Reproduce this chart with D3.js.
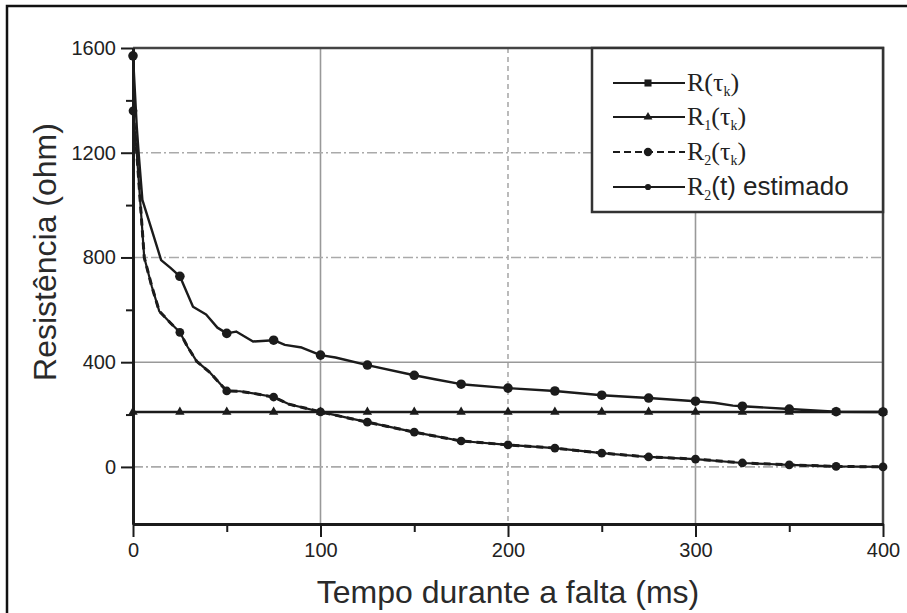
<!DOCTYPE html>
<html>
<head>
<meta charset="utf-8">
<script src="https://cdn.jsdelivr.net/npm/d3@7"></script>
<style>
    body { margin: 0; background: #fff; }
    svg { display: block; }
</style>
</head>
<body>
<div id="chart"></div>
<script>
// values
var tauK  = [0, 25, 50, 75, 100, 125, 150, 175, 200, 225, 250, 275, 300, 325, 350, 375, 400];
var rTau  = [1570, 728, 510, 484, 427, 389, 350, 316, 301, 290, 274, 263, 251, 232, 221, 211, 210];
var r1Tau = [210, 210, 210, 210, 210, 210, 210, 210, 210, 210, 210, 210, 210, 210, 210, 210, 210];
var r2Tau = [1360, 514, 290, 267, 210, 171, 133, 99, 84, 72, 53, 38, 30, 15, 8, 2, 0];

// the R(tau_k) curve is drawn through more points than its markers
var tR    = [0, 2, 3, 5, 10, 15, 20, 25, 32, 39, 45, 50, 55, 64, 75, 81, 90, 100, 108, 125, 150, 161, 175, 200, 225, 250, 275, 300, 310, 320, 325, 350, 375, 400];
var rLine = [1570, 1300, 1200, 1020, 905, 790, 760, 728, 612, 582, 532, 510, 517, 479, 484, 466, 456, 427, 418, 389, 350, 335, 316, 301, 290, 274, 263, 251, 245, 234, 232, 221, 211, 210];

// R2(t) estimado (the dashed R2(tau_k) trace runs along the same path)
var tEst  = [0, 2, 6, 10, 14, 20, 25, 29, 34, 41, 50, 57, 65, 75, 83, 91, 100, 125, 150, 175, 200, 225, 250, 275, 300, 325, 350, 375, 400];
var r2Est = [1360, 1200, 800, 690, 595, 550, 514, 460, 403, 361, 290, 289, 280, 267, 240, 226, 210, 171, 133, 99, 84, 72, 53, 38, 30, 15, 8, 2, 0];

var xTicks = [0, 100, 200, 300, 400];
var xMinor = [50, 150, 250, 350];
var yTicks = [0, 400, 800, 1200, 1600];
var yMinor = [200, 600, 1000, 1400];

var xTitle = "Tempo durante a falta (ms)";
var yTitle = "Resistência (ohm)";

(function () {
    "use strict";

    var W = 907, H = 613,
        left = 133, right = 883, top = 48, bottom = 524,
        ink = "#1b1b1b";

    var svg = d3.select("#chart").append("svg")
        .attr("width", W)
        .attr("height", H);

    // scanned page frame (right and bottom edge fall outside the crop)
    svg.append("rect")
        .attr("x", 7).attr("y", 6)
        .attr("width", 940).attr("height", 640)
        .attr("fill", "none").attr("stroke", "#111").attr("stroke-width", 2.5);

    var x = d3.scaleLinear().domain([0, 400]).range([left, right]);
    var y = d3.scaleLinear().domain([-218, 1600]).range([bottom, top]);

    // grid lines
    var grid = svg.append("g");
    [100, 200, 300].forEach(function (t) {
        grid.append("line")
            .attr("x1", x(t)).attr("x2", x(t))
            .attr("y1", top).attr("y2", bottom)
            .attr("stroke", t === 200 ? "#aaa" : "#999")
            .attr("stroke-width", 1.6)
            .attr("stroke-dasharray", t === 200 ? "5,4" : null);
    });
    [0, 400, 800, 1200].forEach(function (v) {
        grid.append("line")
            .attr("x1", left).attr("x2", right)
            .attr("y1", y(v)).attr("y2", y(v))
            .attr("stroke", v === 400 ? "#999" : "#aaa")
            .attr("stroke-width", 1.6)
            .attr("stroke-dasharray", v === 400 ? null : "10,3,2,3");
    });

    // top and right border of the plot
    svg.append("path")
        .attr("d", "M" + left + "," + top + "H" + right + "V" + bottom)
        .attr("fill", "none").attr("stroke", "#444").attr("stroke-width", 2.5);

    // axes
    var styleAxis = function (g) {
        g.select(".domain").attr("stroke", ink).attr("stroke-width", 2.8);
        g.selectAll(".tick line").attr("stroke", ink).attr("stroke-width", 2);
        g.selectAll(".tick text")
            .attr("fill", "#222")
            .style("font-family", "'Liberation Sans', Arial, sans-serif")
            .style("font-size", "20px");
    };

    svg.append("g")
        .attr("transform", "translate(0," + bottom + ")")
        .call(d3.axisBottom(x).tickValues(xMinor).tickSize(8).tickFormat("").tickSizeOuter(0))
        .call(styleAxis);
    svg.append("g")
        .attr("transform", "translate(0," + bottom + ")")
        .call(d3.axisBottom(x).tickValues(xTicks).tickSize(13).tickPadding(6)
            .tickFormat(d3.format("d")).tickSizeOuter(0))
        .call(styleAxis);

    svg.append("g")
        .attr("transform", "translate(" + left + ",0)")
        .call(d3.axisLeft(y).tickValues(yMinor).tickSize(7).tickFormat("").tickSizeOuter(0))
        .call(styleAxis);
    svg.append("g")
        .attr("transform", "translate(" + left + ",0)")
        .call(d3.axisLeft(y).tickValues(yTicks).tickSize(12).tickPadding(5)
            .tickFormat(d3.format("d")).tickSizeOuter(0))
        .call(styleAxis);

    // axis titles
    svg.append("text")
        .attr("x", (left + right) / 2).attr("y", 603)
        .attr("text-anchor", "middle")
        .attr("fill", "#2a2a2a")
        .style("font-family", "'Liberation Sans', Arial, sans-serif")
        .style("font-size", "32px")
        .text(xTitle);

    svg.append("text")
        .attr("transform", "translate(56,252) rotate(-90)")
        .attr("text-anchor", "middle")
        .attr("fill", "#2a2a2a")
        .style("font-family", "'Liberation Sans', Arial, sans-serif")
        .style("font-size", "32px")
        .text(yTitle);

    // series
    var line = d3.line()
        .x(function (d) { return x(d[0]); })
        .y(function (d) { return y(d[1]); });

    var plot = svg.append("g");

    var drawLine = function (ts, vs, width, dash) {
        plot.append("path")
            .datum(d3.zip(ts, vs))
            .attr("d", line)
            .attr("fill", "none")
            .attr("stroke", ink)
            .attr("stroke-width", width)
            .attr("stroke-linejoin", "round")
            .attr("stroke-dasharray", dash || null);
    };

    var drawMarkers = function (ts, vs, type, size) {
        plot.selectAll(null)
            .data(d3.zip(ts, vs))
            .enter().append("path")
            .attr("transform", function (d) { return "translate(" + x(d[0]) + "," + y(d[1]) + ")"; })
            .attr("d", d3.symbol().type(type).size(size))
            .attr("fill", ink);
    };

    drawLine(tauK, r1Tau, 2.4);
    drawLine(tEst, r2Est, 2.2);
    drawLine(tEst, r2Est, 3, "7,5");
    drawLine(tR, rLine, 2.4);

    drawMarkers(tauK, r1Tau, d3.symbolTriangle, 38);
    drawMarkers(tauK, r2Tau, d3.symbolCircle, 60);
    drawMarkers(tauK, rTau, d3.symbolCircle, 72);

    // legend
    var lg = svg.append("g");
    lg.append("rect")
        .attr("x", 592).attr("y", top)
        .attr("width", right - 592).attr("height", 212 - top)
        .attr("fill", "#fff").attr("stroke", "#333").attr("stroke-width", 2.5);

    var rows = [
        {y: 83,  dash: null,  type: d3.symbolSquare,   size: 50},
        {y: 117, dash: null,  type: d3.symbolTriangle, size: 34},
        {y: 152, dash: "7,4", type: d3.symbolCircle,   size: 55},
        {y: 187, dash: null,  type: d3.symbolCircle,   size: 30}
    ];
    rows.forEach(function (r) {
        lg.append("line")
            .attr("x1", 613).attr("x2", 685)
            .attr("y1", r.y).attr("y2", r.y)
            .attr("stroke", ink).attr("stroke-width", 2.2)
            .attr("stroke-dasharray", r.dash);
        lg.append("path")
            .attr("transform", "translate(648," + r.y + ")")
            .attr("d", d3.symbol().type(r.type).size(r.size))
            .attr("fill", ink);
    });

    var addLabel = function (rowY, parts) {
        var t = lg.append("text")
            .attr("x", 687).attr("y", rowY + 8)
            .attr("fill", "#222")
            .style("font-family", "'Liberation Serif', 'Times New Roman', serif")
            .style("font-size", "26px");
        parts.forEach(function (p) {
            var s = t.append("tspan").text(p.s);
            if (p.sub) {
                s.attr("dy", 5).style("font-size", "14px");
            }
            if (p.up) {
                s.attr("dy", -5);
            }
            if (p.sans) {
                s.style("font-family", "'Liberation Sans', Arial, sans-serif");
            }
        });
    };

    addLabel(rows[0].y, [{s: "R(τ"}, {s: "k", sub: true}, {s: ")", up: true}]);
    addLabel(rows[1].y, [{s: "R"}, {s: "1", sub: true}, {s: "(τ", up: true}, {s: "k", sub: true}, {s: ")", up: true}]);
    addLabel(rows[2].y, [{s: "R"}, {s: "2", sub: true}, {s: "(τ", up: true}, {s: "k", sub: true}, {s: ")", up: true}]);
    addLabel(rows[3].y, [{s: "R"}, {s: "2", sub: true}, {s: "(t) estimado", up: true, sans: true}]);
}());
</script>
</body>
</html>
